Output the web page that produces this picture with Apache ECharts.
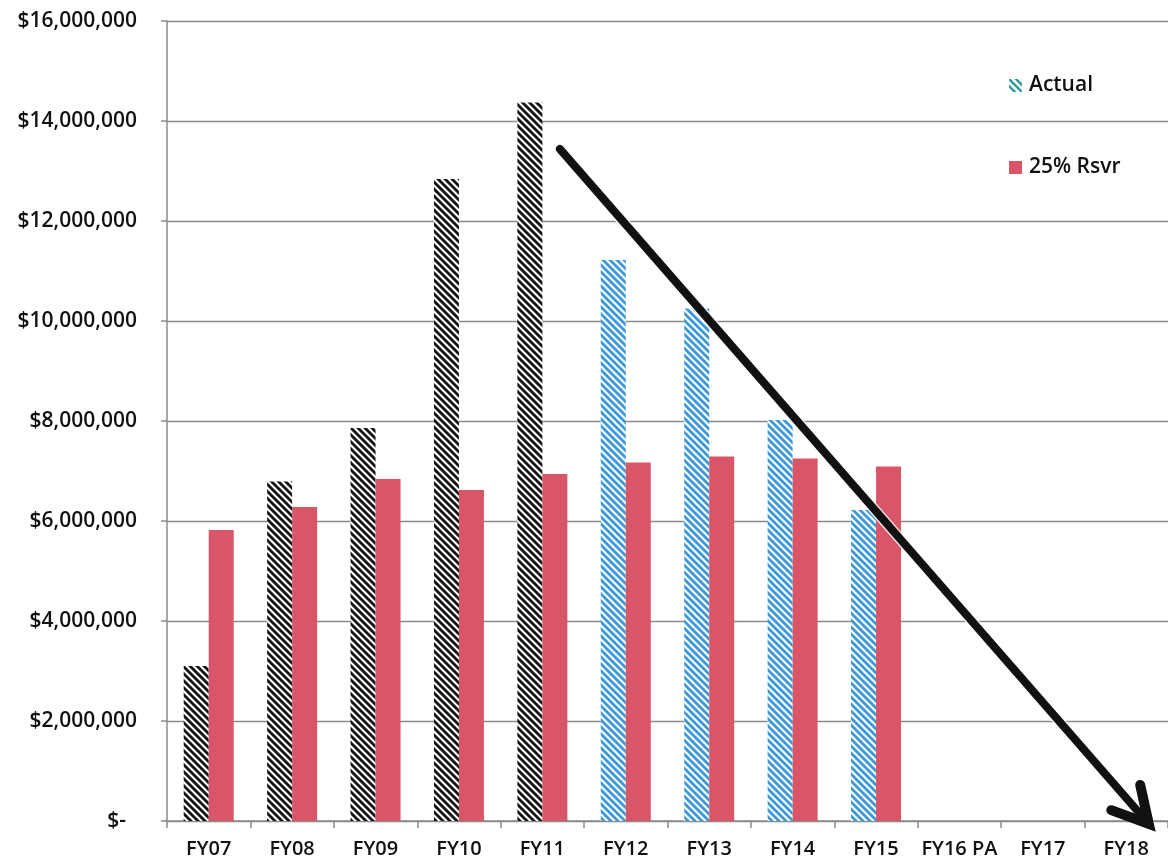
<!DOCTYPE html>
<html>
<head>
<meta charset="utf-8">
<title>Actual vs 25% Reserve</title>
<script src="https://cdn.jsdelivr.net/npm/echarts@6/dist/echarts.min.js"></script>
<style>
  html, body { margin: 0; padding: 0; background: #ffffff; }
  #chart { width: 1168px; height: 867px; }
</style>
</head>
<body>
<div id="chart"></div>
<script>
// Fiscal years on the category axis
const categories = ['FY07', 'FY08', 'FY09', 'FY10', 'FY11', 'FY12', 'FY13', 'FY14', 'FY15', 'FY16 PA', 'FY17', 'FY18'];

// Actual balance by year (dollars)
const actualValues = [3100000, 6790000, 7860000, 12840000, 14370000, 11220000, 10250000, 8020000, 6220000, null, null, null];

// 25% reserve target by year (dollars)
const reserveValues = [5820000, 6280000, 6840000, 6620000, 6940000, 7170000, 7290000, 7250000, 7090000, null, null, null];

// Years FY07-FY11 are drawn with dark hatching, later years with blue hatching
const historicalYears = ['FY07', 'FY08', 'FY09', 'FY10', 'FY11'];

// Downward trend arrow: [xStart, yStart, xEnd, yEnd] on a 0..12 category-position scale
const trendArrow = [[4.71, 13440000, 11.77, -60000]];

// Dollar tick labels on the value axis
const yTicks = [0, 2000000, 4000000, 6000000, 8000000, 10000000, 12000000, 14000000, 16000000];

const FONT = '"Open Sans", Lato, "Liberation Sans", sans-serif';

// Diagonal hatch ("\") fill as a repeating canvas pattern
function hatch(stroke, width) {
  const size = 14, step = 7;
  const c = document.createElement('canvas');
  c.width = size; c.height = size;
  const ctx = c.getContext('2d');
  ctx.fillStyle = '#ffffff';
  ctx.fillRect(0, 0, size, size);
  ctx.strokeStyle = stroke;
  ctx.lineWidth = width;
  for (let k = -size; k <= size; k += step) {
    ctx.beginPath();
    ctx.moveTo(-2, -2 + k);
    ctx.lineTo(size + 2, size + 2 + k);
    ctx.stroke();
  }
  return { image: c, repeat: 'repeat' };
}

const darkHatch = hatch('#141414', 2.8);
const blueHatch = hatch('#3d98d5', 2.8);
const legendHatch = hatch('#2f9a9c', 2.4);
const RESERVE_RED = '#d95668';

const actualData = actualValues.map((v, i) => ({
  value: v,
  itemStyle: { color: historicalYears.includes(categories[i]) ? darkHatch : blueHatch }
}));

const chart = echarts.init(document.getElementById('chart'), null, { renderer: 'canvas' });

chart.setOption({
  animation: false,
  backgroundColor: '#ffffff',
  grid: { left: 167, top: 21, width: 1012, height: 800, containLabel: false },
  legend: {
    orient: 'vertical',
    left: 1004,
    top: 70,
    itemGap: 61,
    itemWidth: 13,
    itemHeight: 13,
    icon: 'rect',
    textStyle: { fontFamily: FONT, fontSize: 21, fontWeight: 600, color: '#111111', padding: [0, 0, 0, 2] },
    data: [
      { name: 'Actual', itemStyle: { color: legendHatch } },
      { name: '25% Rsvr', itemStyle: { color: RESERVE_RED } }
    ]
  },
  xAxis: [
    {
      type: 'category',
      data: categories,
      boundaryGap: true,
      axisLine: { show: true, lineStyle: { color: '#8a8a8a', width: 1.5 } },
      axisTick: { show: true, length: 7, alignWithLabel: false, lineStyle: { color: '#8a8a8a', width: 1.5 } },
      axisLabel: { interval: 0, margin: 18, fontFamily: FONT, fontSize: 20, fontWeight: 600, color: '#111111' }
    },
    {
      type: 'value',
      min: 0,
      max: 12,
      show: false
    }
  ],
  yAxis: {
    type: 'value',
    min: yTicks[0],
    max: yTicks[yTicks.length - 1],
    interval: yTicks[1] - yTicks[0],
    axisLine: { show: true, lineStyle: { color: '#8a8a8a', width: 1.5 } },
    axisTick: { show: true, inside: false, length: 6, lineStyle: { color: '#8a8a8a', width: 1.5 } },
    splitLine: { show: true, lineStyle: { color: '#8a8a8a', width: 1.4 } },
    axisLabel: {
      margin: 30,
      fontFamily: FONT,
      fontSize: 21,
      fontWeight: 600,
      color: '#111111',
      formatter: v => v === 0 ? '$-  ' : '$' + v.toLocaleString('en-US')
    }
  },
  series: [
    {
      name: 'Actual',
      type: 'bar',
      xAxisIndex: 0,
      barWidth: 25,
      barGap: '0%',
      itemStyle: { color: blueHatch },
      data: actualData
    },
    {
      name: '25% Rsvr',
      type: 'bar',
      xAxisIndex: 0,
      barWidth: 25,
      barGap: '0%',
      itemStyle: { color: RESERVE_RED },
      data: reserveValues
    },
    {
      name: 'Trend',
      type: 'custom',
      xAxisIndex: 1,
      yAxisIndex: 0,
      z: 10,
      clip: false,
      silent: true,
      data: trendArrow,
      renderItem(params, api) {
        const p0 = api.coord([api.value(0), api.value(1)]);
        const p1 = api.coord([api.value(2), api.value(3)]);
        const ang = Math.atan2(p1[1] - p0[1], p1[0] - p0[0]);
        const len = 40, spread = 0.5;
        const a1 = [p1[0] - len * Math.cos(ang - spread), p1[1] - len * Math.sin(ang - spread)];
        const a2 = [p1[0] - len * Math.cos(ang + spread), p1[1] - len * Math.sin(ang + spread)];
        return {
          type: 'group',
          children: [
            { type: 'line', shape: { x1: p0[0], y1: p0[1], x2: p1[0], y2: p1[1] },
              style: { stroke: 'rgba(255,255,255,0.85)', lineWidth: 11, lineCap: 'round' } },
            { type: 'line', shape: { x1: p0[0], y1: p0[1], x2: p1[0] - 4 * Math.cos(ang), y2: p1[1] - 4 * Math.sin(ang) },
              style: { stroke: '#111111', lineWidth: 8, lineCap: 'round' } },
            { type: 'polyline', shape: { points: [a1, p1, a2] },
              style: { stroke: '#111111', lineWidth: 10, fill: null, lineJoin: 'miter', lineCap: 'round' } }
          ]
        };
      }
    }
  ]
});
</script>
</body>
</html>
